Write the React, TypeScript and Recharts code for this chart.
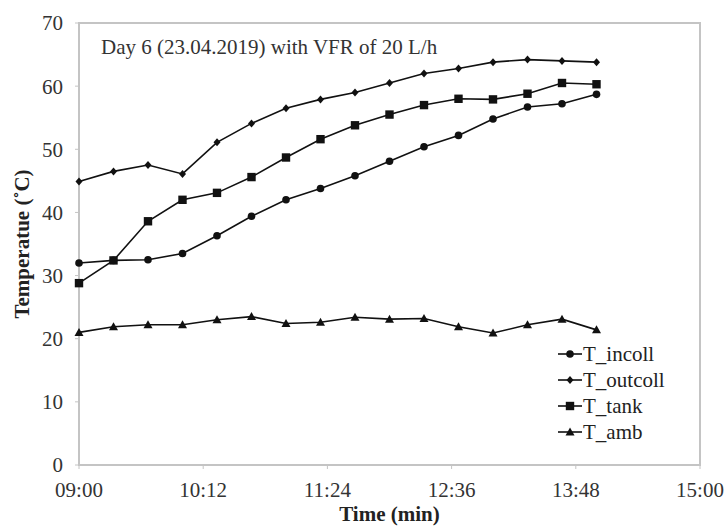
import React from "react";
import {
  Line,
  LineChart,
  ReferenceArea,
  XAxis,
  YAxis,
} from "recharts";

// Day 6 (23.04.2019), VFR 20 L/h — readings every 20 min
const TIMES = [
  "09:00", "09:20", "09:40", "10:00", "10:20", "10:40", "11:00", "11:20",
  "11:40", "12:00", "12:20", "12:40", "13:00", "13:20", "13:40", "14:00",
];
const T_INCOLL = [32.0, 32.4, 32.5, 33.5, 36.3, 39.4, 42.0, 43.8, 45.8, 48.1, 50.4, 52.2, 54.8, 56.7, 57.2, 58.7];
const T_OUTCOLL = [44.9, 46.5, 47.5, 46.1, 51.1, 54.1, 56.5, 57.9, 59.0, 60.5, 62.0, 62.8, 63.8, 64.2, 64.0, 63.8];
const T_TANK = [28.8, 32.4, 38.6, 42.0, 43.1, 45.6, 48.7, 51.6, 53.8, 55.5, 57.0, 58.0, 57.9, 58.8, 60.5, 60.3];
const T_AMB = [21.0, 21.9, 22.2, 22.2, 23.0, 23.5, 22.4, 22.6, 23.4, 23.1, 23.2, 21.9, 20.9, 22.2, 23.1, 21.4];

const X_TICKS = ["09:00", "10:12", "11:24", "12:36", "13:48", "15:00"];
const Y_TICKS = [0, 10, 20, 30, 40, 50, 60, 70];

const FONT = '"Liberation Serif", "Times New Roman", serif';
const INK = "#111";
const FRAME = "#c4c4c4";

const toMin = (s: string) => {
  const [h, m] = s.split(":").map(Number);
  return h * 60 + m;
};
const fmtMin = (v: number) =>
  `${String(Math.floor(v / 60)).padStart(2, "0")}:${String(v % 60).padStart(2, "0")}`;

const rows = TIMES.map((t, i) => ({
  t: toMin(t),
  incoll: T_INCOLL[i],
  outcoll: T_OUTCOLL[i],
  tank: T_TANK[i],
  amb: T_AMB[i],
}));

type Shape = "circle" | "diamond" | "square" | "triangle";

function Marker({ shape, cx, cy }: { shape: Shape; cx: number; cy: number }) {
  if (shape === "circle") return <circle cx={cx} cy={cy} r={3.8} fill={INK} />;
  if (shape === "square") return <rect x={cx - 4.2} y={cy - 4.2} width={8.4} height={8.4} fill={INK} />;
  if (shape === "triangle")
    return <polygon points={`${cx},${cy - 4.5} ${cx + 4.5},${cy + 3.5} ${cx - 4.5},${cy + 3.5}`} fill={INK} />;
  return <polygon points={`${cx},${cy - 4} ${cx + 3.5},${cy} ${cx},${cy + 4} ${cx - 3.5},${cy}`} fill={INK} />;
}

const dotOf = (shape: Shape) => (p: any) => {
  if (p.cx == null || p.cy == null) return <g key={p.index} />;
  return <Marker key={p.index} shape={shape} cx={p.cx} cy={p.cy} />;
};

const SERIES: { key: string; name: string; shape: Shape }[] = [
  { key: "incoll", name: "T_incoll", shape: "circle" },
  { key: "outcoll", name: "T_outcoll", shape: "diamond" },
  { key: "tank", name: "T_tank", shape: "square" },
  { key: "amb", name: "T_amb", shape: "triangle" },
];

// legend drawn outside recharts so it doesn't eat into the plot height
function LegendBox() {
  return (
    <div
      style={{
        position: "absolute",
        left: 556,
        top: 341,
        fontFamily: FONT,
        fontSize: 21,
        color: "#222",
        lineHeight: "26px",
      }}
    >
      {SERIES.map((s) => (
        <div key={s.key} style={{ display: "flex", alignItems: "center", height: 26 }}>
          <svg width={26} height={14} style={{ marginRight: 1 }}>
            <line x1={2} y1={7} x2={26} y2={7} stroke={INK} strokeWidth={1.6} />
            <Marker shape={s.shape} cx={14} cy={7} />
          </svg>
          <span>{s.name}</span>
        </div>
      ))}
    </div>
  );
}

export default function App() {
  return (
    <div
      style={{
        position: "absolute",
        left: 0,
        top: 0,
        width: 726,
        height: 527,
        overflow: "hidden",
        background: "#fff",
      }}
    >
      <LineChart width={726} height={527} data={rows} margin={{ top: 23, right: 26, bottom: 0, left: 0 }}>
        <ReferenceArea x1={540} x2={900} y1={0} y2={70} fill="none" fillOpacity={0} stroke={FRAME} strokeWidth={2} />
        <XAxis
          dataKey="t"
          type="number"
          domain={[540, 900]}
          ticks={X_TICKS.map(toMin)}
          tickFormatter={fmtMin}
          height={62}
          stroke={FRAME}
          tickSize={4}
          tickMargin={13}
          tick={{ fill: "#333", fontSize: 21, fontFamily: FONT }}
          label={{
            value: "Time (min)",
            position: "insideBottom",
            offset: 6,
            style: { fill: "#222", fontSize: 21, fontWeight: 700, fontFamily: FONT },
          }}
        />
        <YAxis
          domain={[0, 70]}
          ticks={Y_TICKS}
          width={79}
          stroke={FRAME}
          tickSize={4}
          tickMargin={12}
          tick={{ fill: "#333", fontSize: 21, fontFamily: FONT }}
          label={{
            value: "Temperatue (˚C)",
            angle: -90,
            position: "insideLeft",
            offset: 22,
            style: { textAnchor: "middle", fill: "#222", fontSize: 21, fontWeight: 700, fontFamily: FONT },
          }}
        />
        {SERIES.map((s) => (
          <Line
            key={s.key}
            dataKey={s.key}
            name={s.name}
            stroke={INK}
            strokeWidth={1.6}
            dot={dotOf(s.shape)}
            activeDot={false}
            isAnimationActive={false}
          />
        ))}
      </LineChart>
      <LegendBox />
      <div
        style={{
          position: "absolute",
          left: 101,
          top: 35,
          fontFamily: FONT,
          fontSize: 21,
          color: "#333",
          whiteSpace: "nowrap",
        }}
      >
        Day 6 (23.04.2019) with VFR of 20 L/h
      </div>
    </div>
  );
}
